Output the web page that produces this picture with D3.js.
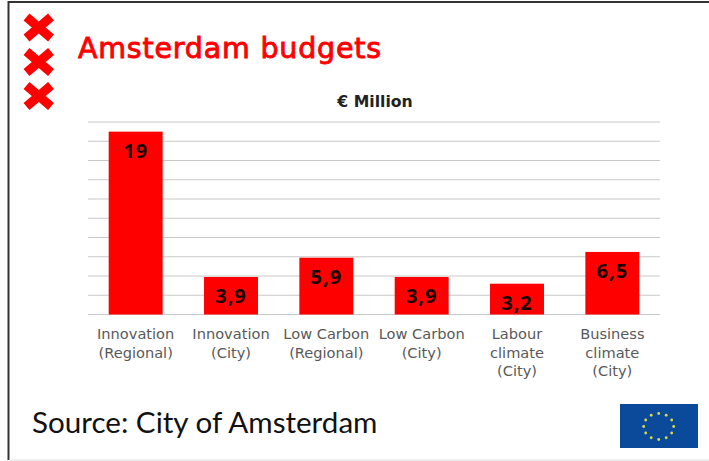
<!DOCTYPE html>
<html lang="en">
<head>
    <meta charset="UTF-8">
    <title>Amsterdam budgets</title>
    <script src="https://d3js.org/d3.v7.min.js"></script>
    <style>
        html, body { margin: 0; padding: 0; background: #fff; }
        svg { display: block; }
    </style>
</head>
<body>
    <div id="chart"></div>
    <script>
    // Values
    const categories = [
        ["Innovation", "(Regional)"],
        ["Innovation", "(City)"],
        ["Low Carbon", "(Regional)"],
        ["Low Carbon", "(City)"],
        ["Labour", "climate", "(City)"],
        ["Business", "climate", "(City)"]
    ];
    const values = [19, 3.9, 5.9, 3.9, 3.2, 6.5];
    const valueLabels = ["19", "3,9", "5,9", "3,9", "3,2", "6,5"];
    const gridTicks = [0, 2, 4, 6, 8, 10, 12, 14, 16, 18, 20];
    const starIndex = d3.range(12);

    const width = 709, height = 461;
    const svg = d3.select("#chart").append("svg")
        .attr("width", width)
        .attr("height", height);

    // Slide frame: dark top and left, faint bottom, nothing on the right
    svg.append("line")
        .attr("x1", 8).attr("x2", 709).attr("y1", 2).attr("y2", 2)
        .attr("stroke", "#333").attr("stroke-width", 2);
    svg.append("line")
        .attr("x1", 8.5).attr("x2", 8.5).attr("y1", 1).attr("y2", 460)
        .attr("stroke", "#333").attr("stroke-width", 2);
    svg.append("line")
        .attr("x1", 9).attr("x2", 709).attr("y1", 460).attr("y2", 460)
        .attr("stroke", "#ddd").attr("stroke-width", 1);

    const x = d3.scaleBand()
        .domain(d3.range(categories.length))
        .range([88, 660])
        .paddingInner(0.434)
        .paddingOuter(0.217);
    const y = d3.scaleLinear().domain([0, 20]).range([314.5, 122]);

    // Gridlines
    svg.append("g").selectAll("line")
        .data(gridTicks)
        .join("line")
        .attr("x1", 88).attr("x2", 660)
        .attr("y1", d => y(d)).attr("y2", d => y(d))
        .attr("stroke", "#c8c8c8")
        .attr("stroke-width", 1.2);

    // Bars
    svg.append("g").selectAll("rect")
        .data(values)
        .join("rect")
        .attr("x", (d, i) => x(i))
        .attr("y", d => y(d))
        .attr("width", x.bandwidth())
        .attr("height", d => y(0) - y(d))
        .attr("fill", "#ff0000");

    // Bar value labels
    svg.append("g").selectAll("text")
        .data(values)
        .join("text")
        .attr("x", (d, i) => x(i) + x.bandwidth() / 2)
        .attr("y", d => y(d) + 26)
        .attr("text-anchor", "middle")
        .attr("font-family", "'Open Sans', sans-serif")
        .attr("font-size", 20)
        .attr("font-weight", 700)
        .attr("letter-spacing", 1)
        .attr("fill", "#1a0000")
        .text((d, i) => valueLabels[i]);

    // Category labels
    const catLabels = svg.append("g").selectAll("text")
        .data(categories)
        .join("text")
        .attr("text-anchor", "middle")
        .attr("font-family", "'DejaVu Sans', sans-serif")
        .attr("font-size", 14.6)
        .attr("fill", "#595959");
    catLabels.selectAll("tspan")
        .data((d, i) => d.map(s => ({ s, i })))
        .join("tspan")
        .attr("x", d => x(d.i) + x.bandwidth() / 2)
        .attr("y", (d, j) => 339 + j * 18.7)
        .text(d => d.s);

    // Titles
    svg.append("text")
        .attr("x", 78).attr("y", 58)
        .attr("font-family", "'DejaVu Sans', sans-serif")
        .attr("font-size", 28.5)
        .attr("letter-spacing", 0.8)
        .attr("stroke", "#ff0000")
        .attr("stroke-width", 0.9)
        .attr("fill", "#ff0000")
        .text("Amsterdam budgets");

    svg.append("text")
        .attr("x", 375).attr("y", 107)
        .attr("text-anchor", "middle")
        .attr("font-family", "'DejaVu Sans', sans-serif")
        .attr("font-size", 15.7)
        .attr("font-weight", 700)
        .attr("fill", "#222")
        .text("€ Million");

    svg.append("text")
        .attr("x", 32).attr("y", 433)
        .attr("font-family", "Lato, sans-serif")
        .attr("font-size", 29.6)
        .attr("fill", "#111")
        .text("Source: City of Amsterdam");

    // Amsterdam crosses
    svg.append("g").selectAll("path")
        .data([27.5, 62, 96])
        .join("path")
        .attr("d", d => `M26.5,${d - 10.5}L51,${d + 10.5}M51,${d - 10.5}L26.5,${d + 10.5}`)
        .attr("stroke", "#ff0000")
        .attr("stroke-width", 9)
        .attr("fill", "none");

    // EU flag
    const flag = svg.append("g");
    flag.append("rect")
        .attr("x", 620).attr("y", 404)
        .attr("width", 78).attr("height", 44)
        .attr("fill", "#0b4a9a");
    flag.selectAll("circle")
        .data(starIndex)
        .join("circle")
        .attr("cx", d => 658.7 + 15 * Math.sin(d * Math.PI / 6))
        .attr("cy", d => 426.5 - 13 * Math.cos(d * Math.PI / 6))
        .attr("r", 1.4)
        .attr("fill", "#d4dc4a");
    </script>
</body>
</html>
